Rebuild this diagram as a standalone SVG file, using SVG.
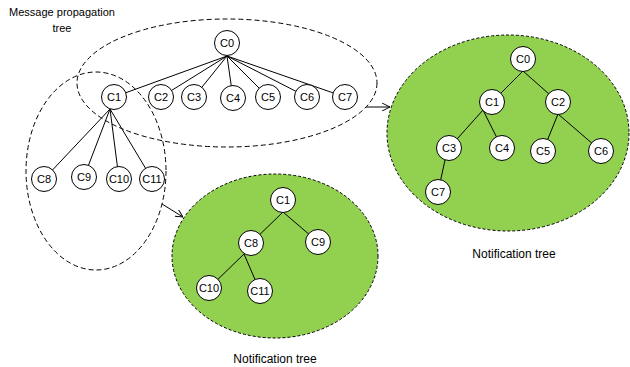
<svg xmlns="http://www.w3.org/2000/svg" width="630" height="367" viewBox="0 0 630 367">
<defs>
<style>
.dash{fill:none;stroke:#000;stroke-width:1;stroke-dasharray:5,3}
.green{fill:#92D050;stroke:#000;stroke-width:1;stroke-dasharray:3,2}
.n circle{fill:#fff;stroke:#000;stroke-width:1}
.n text,.lbl{font-family:"Liberation Sans",Arial,sans-serif;font-size:11px;fill:#000}
.big{font-size:12px}
.n text{text-anchor:middle;dominant-baseline:central}
.e line{stroke:#000;stroke-width:1}
.a{stroke:#000;stroke-width:1;fill:none;marker-end:url(#ah)}
</style>
<marker id="ah" viewBox="0 0 10 10" refX="10" refY="5" markerWidth="8" markerHeight="8" orient="auto" markerUnits="userSpaceOnUse">
<path d="M0,0 L10,5 L0,10" fill="none" stroke="#000" stroke-width="1.2"/>
</marker>
</defs>
<rect width="630" height="367" fill="#fff"/>
<g id="regions">
<ellipse class="dash" cx="227" cy="83" rx="150" ry="64"/>
<ellipse class="dash" cx="96" cy="171" rx="70" ry="99"/>
<ellipse class="green" cx="275" cy="256" rx="103" ry="82"/>
<ellipse class="green" cx="508" cy="133" rx="121" ry="98"/>
</g>
<g id="labels">
<text class="lbl" x="62" y="16" text-anchor="middle">Message propagation</text>
<text class="lbl" x="62" y="32" text-anchor="middle">tree</text>
<text class="lbl big" x="275" y="363" text-anchor="middle">Notification tree</text>
<text class="lbl big" x="514" y="258" text-anchor="middle">Notification tree</text>
</g>
<g id="connectors" class="e">
<line x1="227" y1="56" x2="114" y2="97"/>
<line x1="227" y1="56" x2="161" y2="97"/>
<line x1="227" y1="56" x2="194" y2="97"/>
<line x1="227" y1="56" x2="233" y2="98"/>
<line x1="227" y1="56" x2="268" y2="97"/>
<line x1="227" y1="56" x2="307" y2="97"/>
<line x1="227" y1="56" x2="345" y2="97"/>
<line x1="110" y1="109" x2="44" y2="179"/>
<line x1="110" y1="109" x2="84" y2="177"/>
<line x1="110" y1="109" x2="119" y2="179"/>
<line x1="110" y1="109" x2="152" y2="179"/>
<line x1="283" y1="212" x2="251" y2="243"/>
<line x1="283" y1="212" x2="318" y2="242"/>
<line x1="244" y1="254" x2="209" y2="288"/>
<line x1="244" y1="254" x2="260" y2="291"/>
<line x1="523" y1="71" x2="492" y2="102"/>
<line x1="523" y1="71" x2="558" y2="102"/>
<line x1="483" y1="110" x2="449" y2="148"/>
<line x1="483" y1="110" x2="502" y2="148"/>
<line x1="558" y1="114" x2="543" y2="151"/>
<line x1="558" y1="114" x2="601" y2="151"/>
<line x1="445" y1="160" x2="438" y2="192"/>
<path class="a" d="M366,107 L390,107"/>
<path class="a" d="M162,204 L183,217"/>
</g>
<g id="t1-C0" class="n"><circle cx="227" cy="43" r="12.5"/><text x="227" y="43">C0</text></g>
<g id="t1-C1" class="n"><circle cx="114" cy="97" r="12.5"/><text x="114" y="97">C1</text></g>
<g id="t1-C2" class="n"><circle cx="161" cy="97" r="12.5"/><text x="161" y="97">C2</text></g>
<g id="t1-C3" class="n"><circle cx="194" cy="97" r="12.5"/><text x="194" y="97">C3</text></g>
<g id="t1-C4" class="n"><circle cx="233" cy="98" r="12.5"/><text x="233" y="98">C4</text></g>
<g id="t1-C5" class="n"><circle cx="268" cy="97" r="12.5"/><text x="268" y="97">C5</text></g>
<g id="t1-C6" class="n"><circle cx="307" cy="97" r="12.5"/><text x="307" y="97">C6</text></g>
<g id="t1-C7" class="n"><circle cx="345" cy="97" r="12.5"/><text x="345" y="97">C7</text></g>
<g id="t1-C8" class="n"><circle cx="44" cy="179" r="12.5"/><text x="44" y="179">C8</text></g>
<g id="t1-C9" class="n"><circle cx="84" cy="177" r="12.5"/><text x="84" y="177">C9</text></g>
<g id="t1-C10" class="n"><circle cx="119" cy="179" r="12.5"/><text x="119" y="179">C10</text></g>
<g id="t1-C11" class="n"><circle cx="152" cy="179" r="12.5"/><text x="152" y="179">C11</text></g>
<g id="t2-C1" class="n"><circle cx="283" cy="200" r="12.5"/><text x="283" y="200">C1</text></g>
<g id="t2-C8" class="n"><circle cx="251" cy="243" r="12.5"/><text x="251" y="243">C8</text></g>
<g id="t2-C9" class="n"><circle cx="318" cy="242" r="12.5"/><text x="318" y="242">C9</text></g>
<g id="t2-C10" class="n"><circle cx="209" cy="288" r="12.5"/><text x="209" y="288">C10</text></g>
<g id="t2-C11" class="n"><circle cx="260" cy="291" r="12.5"/><text x="260" y="291">C11</text></g>
<g id="t3-C0" class="n"><circle cx="523" cy="59" r="12.5"/><text x="523" y="59">C0</text></g>
<g id="t3-C1" class="n"><circle cx="492" cy="102" r="12.5"/><text x="492" y="102">C1</text></g>
<g id="t3-C2" class="n"><circle cx="558" cy="102" r="12.5"/><text x="558" y="102">C2</text></g>
<g id="t3-C3" class="n"><circle cx="449" cy="148" r="12.5"/><text x="449" y="148">C3</text></g>
<g id="t3-C4" class="n"><circle cx="502" cy="148" r="12.5"/><text x="502" y="148">C4</text></g>
<g id="t3-C5" class="n"><circle cx="543" cy="151" r="12.5"/><text x="543" y="151">C5</text></g>
<g id="t3-C6" class="n"><circle cx="601" cy="151" r="12.5"/><text x="601" y="151">C6</text></g>
<g id="t3-C7" class="n"><circle cx="438" cy="192" r="12.5"/><text x="438" y="192">C7</text></g>
</svg>
